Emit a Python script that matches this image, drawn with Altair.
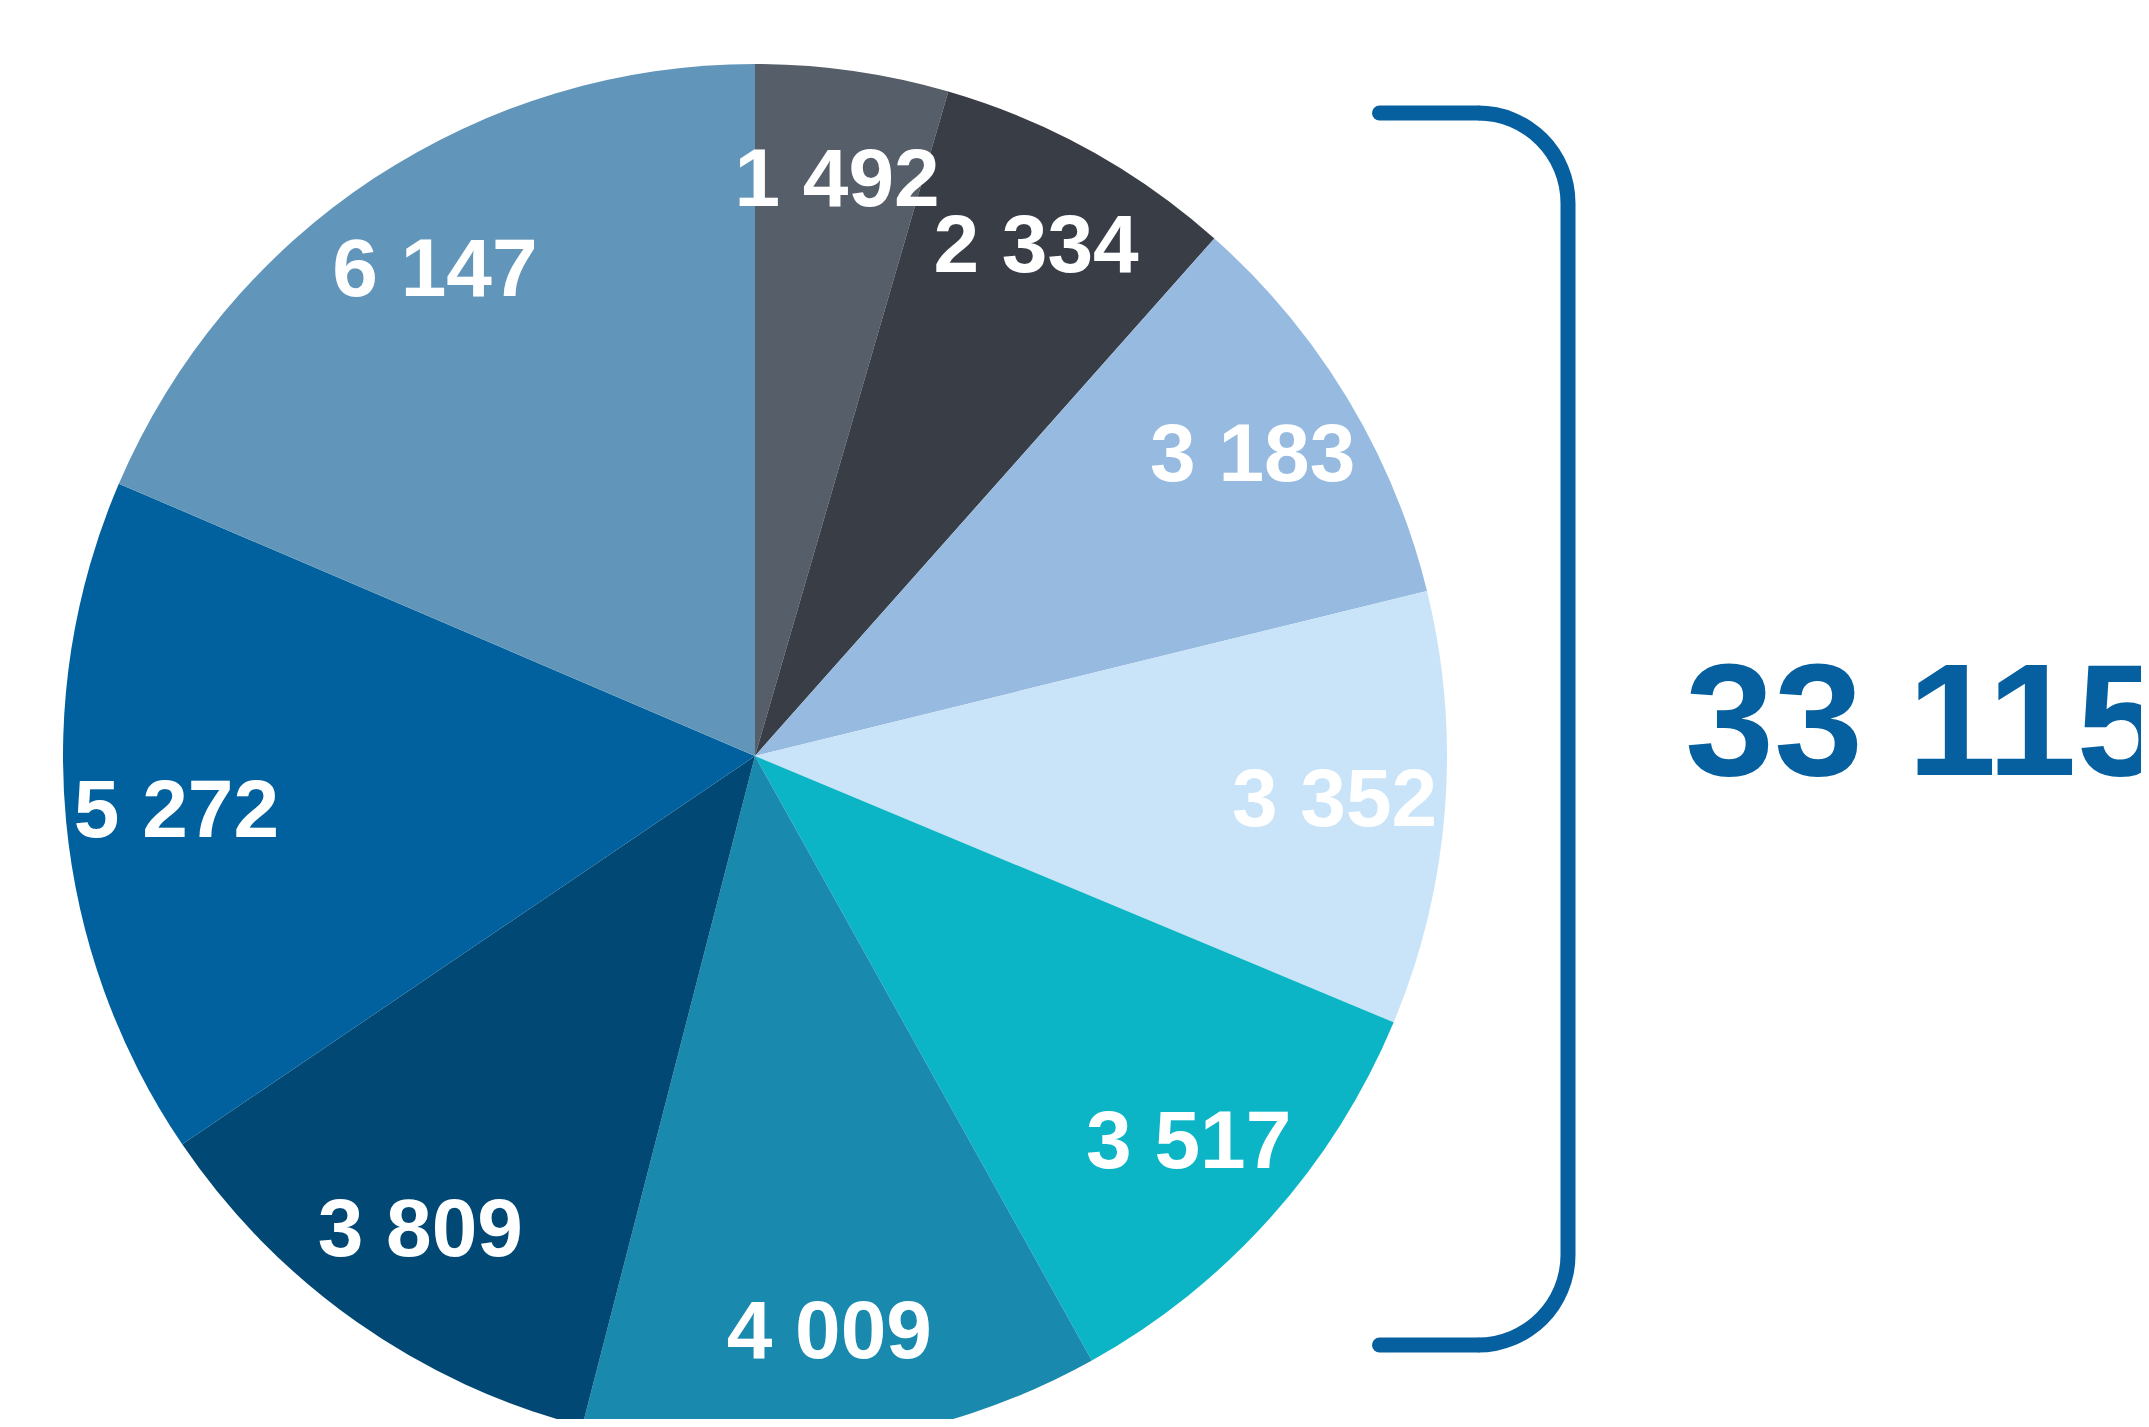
import altair as alt
import pandas as pd
import math

labels = ["1 492", "2 334", "3 183", "3 352", "3 517", "4 009", "3 809", "5 272", "6 147"]
values = [1492, 2334, 3183, 3352, 3517, 4009, 3809, 5272, 6147]
colors = ["#565e69", "#393d46", "#97bbe0", "#c9e4f8", "#0bb5c5", "#1a89ae", "#024874", "#01619e", "#6196ba"]
total_label = "33 115"

df = pd.DataFrame({"label": labels, "value": values, "idx": list(range(len(values)))})

W, H = 2133, 1411
CX, CY, R = 747, 748, 692
BLUE = "#0660a0"
FONT = "Liberation Sans"

base = alt.Chart(df).encode(
    theta=alt.Theta("value:Q", stack=True),
    order=alt.Order("idx:Q"),
)

pie = base.mark_arc(radius=R).encode(
    x=alt.value(CX), y=alt.value(CY),
    color=alt.Color("label:N", scale=alt.Scale(domain=labels, range=colors), legend=None),
)

txt = base.mark_text(radius=0.84 * R, font=FONT, fontWeight="bold",
                     fontSize=82, align="center", baseline="middle", color="white").encode(
    x=alt.value(CX), y=alt.value(CY),
    text="label:N",
    detail="label:N",
)

one = pd.DataFrame({"a": [0]})
sw = 15
top_y, bot_y, vx, rc = 105, 1337, 1560, 90
left_x = 1371.5

rules = []
rules.append(alt.Chart(one).mark_rule(color=BLUE, strokeWidth=sw, strokeCap="round").encode(
    x=alt.value(left_x), x2=alt.value(vx - rc), y=alt.value(top_y)))
rules.append(alt.Chart(one).mark_rule(color=BLUE, strokeWidth=sw, strokeCap="butt").encode(
    x=alt.value(vx), y=alt.value(top_y + rc), y2=alt.value(bot_y - rc)))
rules.append(alt.Chart(one).mark_rule(color=BLUE, strokeWidth=sw, strokeCap="round").encode(
    x=alt.value(left_x), x2=alt.value(vx - rc), y=alt.value(bot_y)))

corner1 = alt.Chart(one).mark_arc(color=BLUE, theta=0, theta2=math.pi / 2,
                                  radius=rc + sw / 2, radius2=rc - sw / 2).encode(
    x=alt.value(vx - rc), y=alt.value(top_y + rc))
corner2 = alt.Chart(one).mark_arc(color=BLUE, theta=math.pi / 2, theta2=math.pi,
                                  radius=rc + sw / 2, radius2=rc - sw / 2).encode(
    x=alt.value(vx - rc), y=alt.value(bot_y - rc))

total = alt.Chart(one).mark_text(text=total_label, font=FONT, fontWeight="bold",
                                 fontSize=160, align="left", baseline="alphabetic", color=BLUE).encode(
    x=alt.value(1677), y=alt.value(767))

chart = alt.layer(pie, txt, *rules, corner1, corner2, total).properties(
    width=W, height=H, padding=0, autosize=alt.AutoSizeParams(type="none"),
    background="white",
).configure_view(stroke=None)

chart.save("out.html", embed_options={"renderer": "svg", "actions": False})
